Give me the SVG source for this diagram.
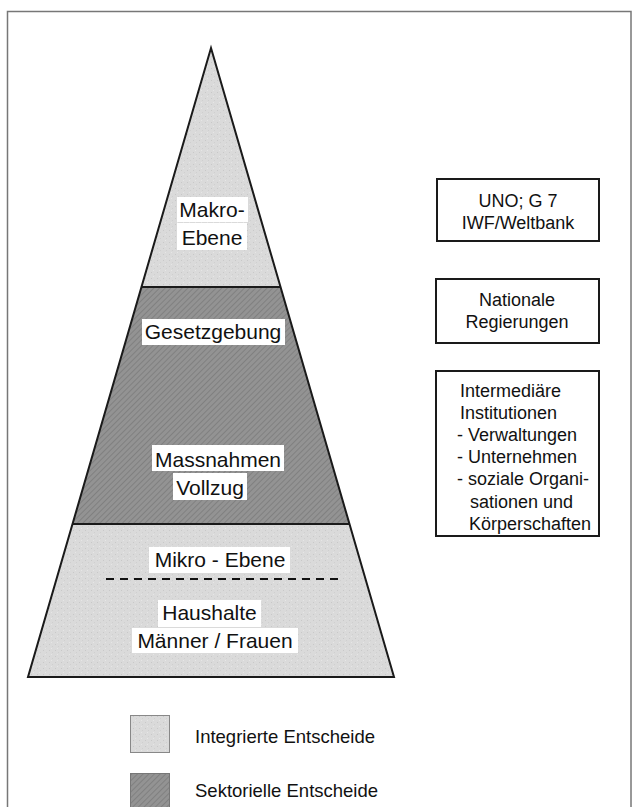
<svg xmlns="http://www.w3.org/2000/svg" width="632" height="807" viewBox="0 0 632 807">
<defs>
<pattern id="hatch" width="4" height="4" patternUnits="userSpaceOnUse" patternTransform="rotate(45)">
<rect width="4" height="4" fill="#939393"/>
<line x1="0" y1="0" x2="0" y2="4" stroke="#7a7a7a" stroke-width="1.5"/>
</pattern>
<pattern id="speck" width="6" height="6" patternUnits="userSpaceOnUse">
<rect width="6" height="6" fill="#dadada"/>
<rect x="1" y="2" width="1" height="1" fill="#c8c8c8"/>
<rect x="4" y="4" width="1" height="1" fill="#cfcfcf"/>
<rect x="3" y="0" width="1" height="1" fill="#e6e6e6"/>
</pattern>
</defs>
<style>
.lbl{font-family:"Liberation Sans",Arial,sans-serif;font-size:21px;fill:#111;text-anchor:middle}
.box{fill:#fff;stroke:#1a1a1a;stroke-width:2}
.bt{font-family:"Liberation Sans",Arial,sans-serif;font-size:18px;fill:#111}
.btc{text-anchor:middle}
.bg{fill:#fff}
.lg{font-family:"Liberation Sans",Arial,sans-serif;font-size:18.5px;fill:#111}
</style>
<rect x="7.5" y="11.5" width="623.5" height="810" fill="#fff" stroke="#777" stroke-width="1.5"/>

<g id="layer-makro">
<polygon points="211,48 280.5,287 141.5,287" fill="url(#speck)"/>
<rect class="bg" x="177" y="197" width="71" height="25"/>
<rect class="bg" x="177" y="223" width="70" height="27"/>
<text class="lbl" x="212" y="217">Makro-</text>
<text class="lbl" x="212" y="245">Ebene</text>
</g>

<g id="layer-sektoriell">
<polygon points="141.5,287 280.5,287 349.5,524 72.5,524" fill="url(#hatch)"/>
<rect class="bg" x="142" y="319" width="143" height="26"/>
<text class="lbl" x="213" y="339">Gesetzgebung</text>
<rect class="bg" x="152" y="445" width="132" height="26"/>
<rect class="bg" x="173" y="473" width="74" height="27"/>
<text class="lbl" x="218" y="467">Massnahmen</text>
<text class="lbl" x="210" y="495">Vollzug</text>
</g>

<g id="layer-mikro">
<polygon points="72.5,524 349.5,524 394,677 28,677" fill="url(#speck)"/>
<rect class="bg" x="149" y="547" width="141" height="26"/>
<text class="lbl" x="220" y="567">Mikro - Ebene</text>
<line x1="106" y1="579" x2="343" y2="579" stroke="#111" stroke-width="2" stroke-dasharray="8,6"/>
<rect class="bg" x="158" y="600" width="103" height="27"/>
<text class="lbl" x="209.5" y="620">Haushalte</text>
<rect class="bg" x="132" y="628" width="166" height="25"/>
<text class="lbl" x="215" y="648">Männer / Frauen</text>
</g>

<g id="pyramid-outline" fill="none" stroke="#1a1a1a" stroke-width="2">
<polygon points="211,48 394,677 28,677" stroke-linejoin="miter"/>
<line x1="141.5" y1="287" x2="280.5" y2="287"/>
<line x1="72.5" y1="524" x2="349.5" y2="524"/>
</g>

<g id="box-uno">
<rect class="box" x="437" y="179" width="162" height="62"/>
<text class="bt btc" x="518" y="207">UNO; G 7</text>
<text class="bt btc" x="518" y="229">IWF/Weltbank</text>
</g>

<g id="box-national">
<rect class="box" x="436" y="279" width="163" height="64"/>
<text class="bt btc" x="517" y="306">Nationale</text>
<text class="bt btc" x="517" y="328">Regierungen</text>
</g>

<g id="box-intermediaer">
<rect class="box" x="436" y="371" width="163" height="165"/>
<text class="bt" x="460" y="397">Intermediäre</text>
<text class="bt" x="460" y="419">Institutionen</text>
<text class="bt" x="457" y="441">- Verwaltungen</text>
<text class="bt" x="457" y="463">- Unternehmen</text>
<text class="bt" x="457" y="485">- soziale Organi-</text>
<text class="bt" x="470" y="508">sationen und</text>
<text class="bt" x="469" y="530">Körperschaften</text>
</g>

<g id="legend-integriert">
<rect x="130.5" y="715.5" width="39" height="37" fill="url(#speck)" stroke="#888" stroke-width="1"/>
<text class="lg" x="195" y="743">Integrierte Entscheide</text>
</g>
<g id="legend-sektoriell">
<rect x="130.5" y="773.5" width="39" height="40" fill="url(#hatch)" stroke="#777" stroke-width="1"/>
<text class="lg" x="195" y="797">Sektorielle Entscheide</text>
</g>
</svg>
